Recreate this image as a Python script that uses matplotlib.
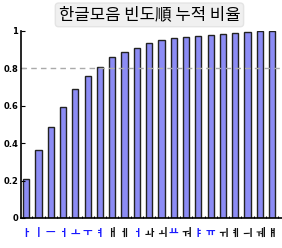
import numpy as np
import matplotlib
matplotlib.use("Agg")
import matplotlib.pyplot as plt

plt.rcParams['font.family'] = ['Noto Sans CJK KR', 'DejaVu Sans']

# vowels ordered by frequency, cumulative share
vowels = ['ㅏ', 'ㅣ', 'ㅡ', 'ㅓ', 'ㅗ', 'ㅜ', 'ㅕ', 'ㅐ', 'ㅔ', 'ㅓ', 'ㅘ',
          'ㅚ', 'ㅛ', 'ㅝ', 'ㅑ', 'ㅠ', 'ㅟ', 'ㅖ', 'ㅢ', 'ㅞ', 'ㅒ']
cum_ratio = [0.21, 0.366, 0.487, 0.596, 0.69, 0.76, 0.805, 0.86, 0.89, 0.91,
             0.935, 0.95, 0.96, 0.97, 0.975, 0.98, 0.985, 0.99, 0.995, 0.998, 1.0]
basic = ['ㅏ', 'ㅑ', 'ㅓ', 'ㅕ', 'ㅗ', 'ㅛ', 'ㅜ', 'ㅠ', 'ㅡ', 'ㅣ']
yticks = [0, 0.2, 0.4, 0.6, 0.8, 1]
ytick_labels = ['0', '0.2', '0.4', '0.6', '0.8', '1']

fig = plt.figure(figsize=(2.82, 2.48), dpi=100)
ax = fig.add_axes([0.0745, 0.121, 0.9255, 0.754])

x = np.arange(len(vowels))
ax.bar(x, cum_ratio, width=0.5, color='#8c8cf5', edgecolor='#222222', linewidth=1.0)
ax.axhline(0.8, color='#aaaaaa', linestyle='--', linewidth=1.0, dashes=(4, 3))

ax.set_xlim(-0.42, len(vowels) - 0.2)
ax.set_ylim(0, 1.0)
ax.spines['top'].set_visible(False)
ax.spines['right'].set_visible(False)
ax.spines['left'].set_linewidth(1.2)
ax.spines['bottom'].set_linewidth(1.2)

ax.set_yticks(yticks)
ax.set_yticklabels(ytick_labels, fontsize=6, fontweight='bold', family='DejaVu Sans')
ax.tick_params(axis='y', direction='in', length=3, pad=2)

ax.set_xticks(x)
ax.set_xticklabels(vowels, fontsize=7.5, fontweight='bold')
ax.tick_params(axis='x', length=0, pad=7)
for lbl, v in zip(ax.get_xticklabels(), vowels):
    lbl.set_color('#1a1aff' if v in basic else '#111111')

ax.set_xticks(x + 0.5, minor=True)
ax.tick_params(axis='x', which='minor', direction='in', length=1.5, width=0.8)

fig.text(0.53, 0.94, '한글모음 빈도順 누적 비율', ha='center', va='center', fontsize=12,
         bbox=dict(boxstyle='round,pad=0.2', facecolor='#f0f0f0', edgecolor='#e4e4e4'))

fig.savefig('out.png', dpi=100)
